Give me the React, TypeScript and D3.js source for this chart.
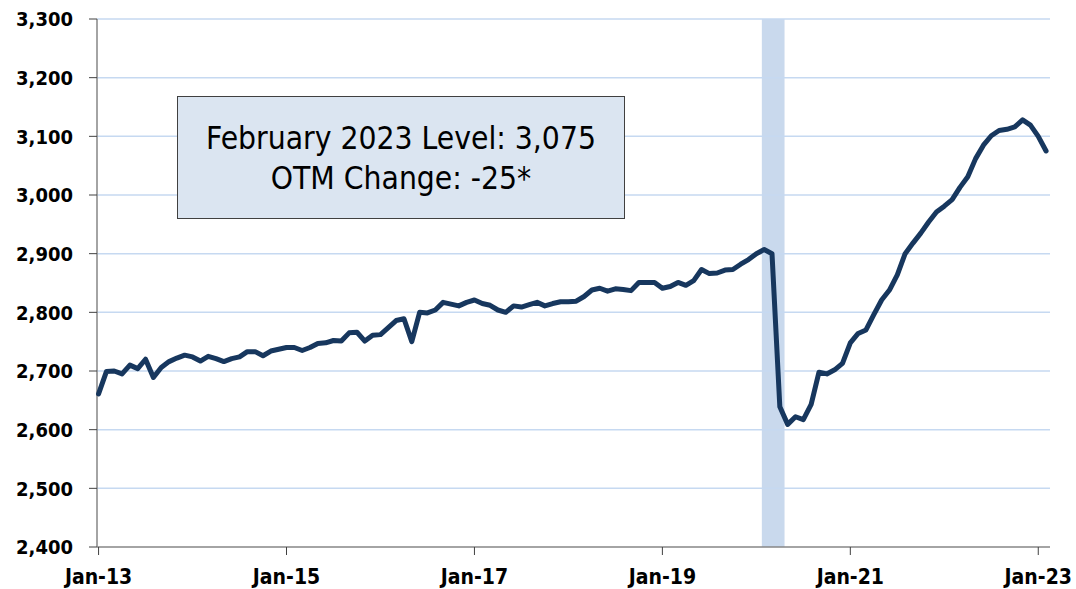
import React from 'react';
import * as d3 from 'd3';

// monthly values, Jan-13 .. Feb-23
const values2013 = [2661, 2699, 2700, 2695, 2710, 2704, 2720, 2689, 2706, 2716, 2722, 2727];
const values2014 = [2724, 2717, 2725, 2721, 2716, 2721, 2724, 2733, 2733, 2726, 2734, 2737];
const values2015 = [2740, 2740, 2735, 2740, 2747, 2748, 2752, 2751, 2765, 2766, 2751, 2761];
const values2016 = [2762, 2774, 2786, 2789, 2750, 2800, 2799, 2804, 2817, 2814, 2811, 2817];
const values2017 = [2821, 2815, 2812, 2804, 2800, 2811, 2809, 2813, 2817, 2811, 2815, 2818];
const values2018 = [2818, 2819, 2827, 2838, 2841, 2836, 2840, 2839, 2837, 2851, 2851, 2851];
const values2019 = [2841, 2844, 2851, 2846, 2854, 2873, 2866, 2867, 2872, 2873, 2882, 2890];
const values2020 = [2900, 2907, 2900, 2639, 2609, 2622, 2617, 2643, 2698, 2695, 2702, 2713];
const values2021 = [2748, 2764, 2770, 2796, 2821, 2838, 2864, 2900, 2918, 2935, 2954, 2971];
const values2022 = [2981, 2992, 3013, 3031, 3062, 3085, 3101, 3110, 3112, 3116, 3128, 3119];
const values2023 = [3100, 3075];

const series = [
  ...values2013, ...values2014, ...values2015, ...values2016, ...values2017, ...values2018,
  ...values2019, ...values2020, ...values2021, ...values2022, ...values2023,
];

const xTickLabels = ['Jan-13', 'Jan-15', 'Jan-17', 'Jan-19', 'Jan-21', 'Jan-23'];
const xTickMonths = [0, 24, 48, 72, 96, 120];
const yTicks = [2400, 2500, 2600, 2700, 2800, 2900, 3000, 3100, 3200, 3300];
const recession = [84.7, 87.6];
const boxLines = ['February 2023 Level: 3,075', 'OTM Change: -25*'];

const App = () => {
  const left = 97;
  const right = 1050;
  const top = 19;
  const bottom = 547;

  const x = d3.scaleLinear().domain([-0.2, 121.5]).range([left, right]);
  const y = d3.scaleLinear().domain([2400, 3300]).range([bottom, top]);

  const line = d3.line<number>()
    .x((d, i) => x(i))
    .y(d => y(d));

  const axisFont = '"DejaVu Sans Condensed", "DejaVu Sans", sans-serif';

  return (
    <svg
      width={1076}
      height={589}
      style={{ position: 'absolute', left: 0, top: 0, background: '#fff' }}
    >
      {/* recession shading */}
      <rect
        x={x(recession[0])}
        y={top}
        width={x(recession[1]) - x(recession[0])}
        height={bottom - top}
        fill="#c9d9ed"
      />

      {/* grid */}
      {yTicks.filter(t => t > 2400).map(t => (
        <line key={t} x1={left} x2={right} y1={y(t)} y2={y(t)} stroke="#c6d9f1" strokeWidth={1.5} />
      ))}

      {/* y axis */}
      <line x1={left} x2={left} y1={top} y2={bottom} stroke="#868686" strokeWidth={1.5} />
      {yTicks.map(t => (
        <g key={t}>
          <line x1={left - 8} x2={left} y1={y(t)} y2={y(t)} stroke="#404040" strokeWidth={1} />
          <text
            x={73}
            y={y(t)}
            dy="0.36em"
            textAnchor="end"
            fontFamily={axisFont}
            fontWeight="bold"
            fontSize={20}
            fill="#000"
          >
            {d3.format(',')(t)}
          </text>
        </g>
      ))}

      {/* x axis */}
      <line x1={left} x2={right} y1={bottom} y2={bottom} stroke="#868686" strokeWidth={1.5} />
      {xTickMonths.map((m, i) => (
        <g key={m}>
          <line x1={x(m)} x2={x(m)} y1={bottom} y2={bottom + 8} stroke="#404040" strokeWidth={1} />
          <text
            x={x(m)}
            y={584}
            textAnchor="middle"
            fontFamily={axisFont}
            fontWeight="bold"
            fontSize={21}
            fill="#000"
          >
            {xTickLabels[i]}
          </text>
        </g>
      ))}

      {/* series */}
      <path
        d={line(series) || ''}
        fill="none"
        stroke="#17375e"
        strokeWidth={5}
        strokeLinejoin="round"
        strokeLinecap="round"
      />

      {/* annotation box */}
      <rect x={177.5} y={96.5} width={447} height={122} fill="#dbe5f1" stroke="#404040" strokeWidth={1} />
      {boxLines.map((s, i) => (
        <text
          key={s}
          x={401}
          y={149 + i * 40}
          textAnchor="middle"
          fontFamily={axisFont}
          fontSize={31.5}
          fill="#000"
        >
          {s}
        </text>
      ))}
    </svg>
  );
};

export default App;
